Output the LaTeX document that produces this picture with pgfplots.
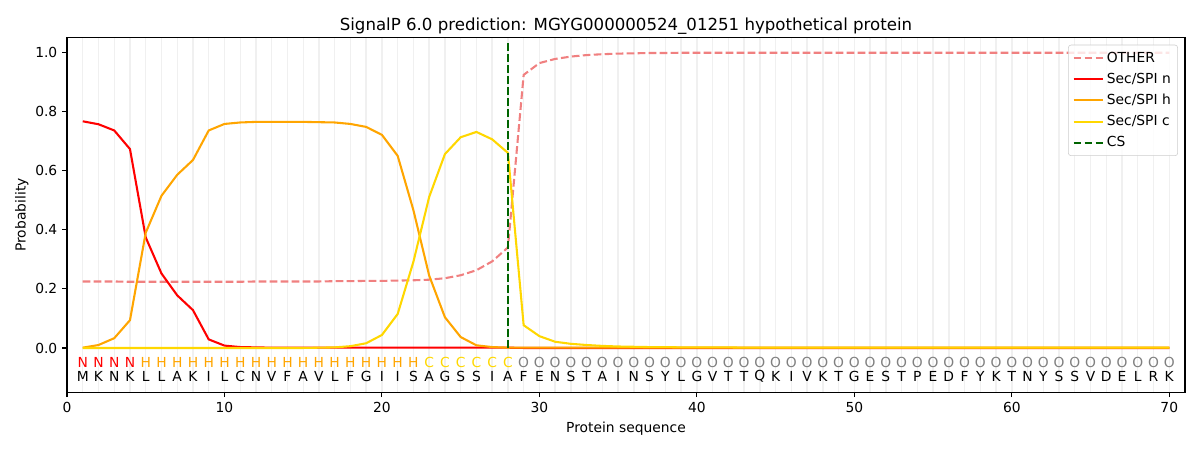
\documentclass[border=0pt]{standalone}
\usepackage{fontspec}
\setmainfont{DejaVu Sans}
\usepackage{pgfplots}
\pgfplotsset{compat=1.18}
\definecolor{lightcoral}{HTML}{F08080}
\definecolor{mplorange}{HTML}{FFA500}
\definecolor{mplgold}{HTML}{FFD700}
\definecolor{mpldarkgreen}{HTML}{006400}
\definecolor{mplgray}{HTML}{808080}
\definecolor{gridgray}{HTML}{F0F0F0}
\begin{document}
\begin{tikzpicture}
\useasboundingbox (-48.42pt,-41.7pt) rectangle ++(867.24pt,325.215pt);
\begin{axis}[
  at={(0,0)}, anchor=south west,
  scale only axis, width=808pt, height=256.3pt,
  xmin=0, xmax=71, ymin=-0.15, ymax=1.05,
  clip=false,
  /pgf/number format/assume math mode=true,
  xtick={0,10,...,70},
  ytick={0,0.2,0.4,0.6,0.8,1.0},
  minor xtick={1,2,...,70},
  xminorgrids=true,
  minor grid style={gridgray, line width=1pt},
  minor tick length=0pt,
  major tick length=3.5pt,
  tick align=outside,
  xtick pos=bottom, ytick pos=left,
  tick style={black, line width=0.8pt},
  axis line style={line width=0.8pt},
  yticklabel style={/pgf/number format/fixed, /pgf/number format/fixed zerofill, /pgf/number format/precision=1},
  ticklabel style={font=\fontsize{10}{12}\selectfont},
  title={SignalP 6.0 prediction: MGYG000000524\_01251 hypothetical protein},
  title style={at={(axis description cs:0.5,1)}, anchor=base, yshift=-0.7pt, font=\fontsize{12}{14}\selectfont},
  xlabel={Protein sequence},
  xlabel style={at={(axis description cs:0.5,0)}, anchor=base, yshift=-29.2pt, font=\fontsize{10}{12}\selectfont},
  ylabel={Probability},
  ylabel style={at={(axis description cs:-0.0405,0.5)}, anchor=center, font=\fontsize{10}{12}\selectfont},
  legend cell align=left,
  legend image code/.code={\draw[#1] (0cm,0.0cm) -- (0.75cm,0cm);},
  legend style={at={(axis description cs:0.9937,0.980)}, anchor=north east,
    draw=black!20, rounded corners=2pt, fill=white, fill opacity=0.8, text opacity=1,
    font=\fontsize{10}{12}\selectfont, row sep=2.3pt, inner sep=3pt},
]
\addplot[lightcoral, line width=1.5pt, dash pattern=on 5.55pt off 2.4pt] coordinates {
(1,0.225) (2,0.225) (3,0.225) (4,0.224) (5,0.224) (6,0.224) (7,0.224) (8,0.224) (9,0.224) (10,0.224)
(11,0.224) (12,0.225) (13,0.225) (14,0.225) (15,0.225) (16,0.225) (17,0.226) (18,0.226) (19,0.227) (20,0.227)
(21,0.228) (22,0.229) (23,0.231) (24,0.236) (25,0.246) (26,0.263) (27,0.293) (28,0.340) (29,0.924) (30,0.964)
(31,0.978) (32,0.986) (33,0.991) (34,0.994) (35,0.996) (36,0.997) (37,0.998) (38,0.998) (39,0.999) (40,0.999)
(41,0.999) (42,0.999) (43,0.999) (44,0.999) (45,0.999) (46,0.999) (47,0.999) (48,0.999) (49,0.999) (50,0.999)
(51,0.999) (52,0.999) (53,0.999) (54,0.999) (55,0.999) (56,0.999) (57,0.999) (58,0.999) (59,0.999) (60,0.999)
(61,0.999) (62,0.999) (63,0.999) (64,0.999) (65,0.999) (66,0.999) (67,0.999) (68,0.999) (69,0.999) (70,0.999)
};
\addlegendentry{OTHER}
\addplot[red, line width=1.5pt] coordinates {
(1,0.767) (2,0.757) (3,0.736) (4,0.673) (5,0.374) (6,0.252) (7,0.178) (8,0.128) (9,0.029) (10,0.008)
(11,0.003) (12,0.002) (13,0.001) (14,0.001) (15,0.001) (16,0.001) (17,0.001) (18,0.001) (19,0.001) (20,0.001)
(21,0.001) (22,0.001) (23,0.001) (24,0.001) (25,0.001) (26,0.001) (27,0.001) (28,0.001) (29,0.000) (30,0.000)
(31,0.000) (32,0.000) (33,0.000) (34,0.000) (35,0.000) (36,0.000) (37,0.000) (38,0.000) (39,0.000) (40,0.000)
(41,0.000) (42,0.000) (43,0.000) (44,0.000) (45,0.000) (46,0.000) (47,0.000) (48,0.000) (49,0.000) (50,0.000)
(51,0.000) (52,0.000) (53,0.000) (54,0.000) (55,0.000) (56,0.000) (57,0.000) (58,0.000) (59,0.000) (60,0.000)
(61,0.000) (62,0.000) (63,0.000) (64,0.000) (65,0.000) (66,0.000) (67,0.000) (68,0.000) (69,0.000) (70,0.000)
};
\addlegendentry{Sec/SPI n}
\addplot[mplorange, line width=1.5pt] coordinates {
(1,0.001) (2,0.010) (3,0.033) (4,0.094) (5,0.390) (6,0.515) (7,0.586) (8,0.636) (9,0.736) (10,0.758)
(11,0.763) (12,0.765) (13,0.765) (14,0.765) (15,0.765) (16,0.764) (17,0.763) (18,0.758) (19,0.748) (20,0.721)
(21,0.650) (22,0.466) (23,0.245) (24,0.104) (25,0.037) (26,0.009) (27,0.003) (28,0.001) (29,0.001) (30,0.001)
(31,0.001) (32,0.001) (33,0.001) (34,0.001) (35,0.001) (36,0.001) (37,0.001) (38,0.001) (39,0.001) (40,0.001)
(41,0.001) (42,0.001) (43,0.001) (44,0.001) (45,0.001) (46,0.001) (47,0.001) (48,0.001) (49,0.001) (50,0.001)
(51,0.001) (52,0.001) (53,0.001) (54,0.001) (55,0.001) (56,0.001) (57,0.001) (58,0.001) (59,0.001) (60,0.001)
(61,0.001) (62,0.001) (63,0.001) (64,0.001) (65,0.001) (66,0.001) (67,0.001) (68,0.001) (69,0.001) (70,0.001)
};
\addlegendentry{Sec/SPI h}
\addplot[mplgold, line width=1.5pt] coordinates {
(1,0.000) (2,0.000) (3,0.000) (4,0.000) (5,0.000) (6,0.000) (7,0.000) (8,0.000) (9,0.000) (10,0.000)
(11,0.000) (12,0.000) (13,0.000) (14,0.000) (15,0.000) (16,0.001) (17,0.002) (18,0.006) (19,0.016) (20,0.044)
(21,0.115) (22,0.292) (23,0.511) (24,0.656) (25,0.713) (26,0.731) (27,0.706) (28,0.660) (29,0.077) (30,0.040)
(31,0.021) (32,0.014) (33,0.010) (34,0.007) (35,0.005) (36,0.004) (37,0.003) (38,0.003) (39,0.002) (40,0.002)
(41,0.002) (42,0.002) (43,0.001) (44,0.001) (45,0.001) (46,0.001) (47,0.001) (48,0.001) (49,0.001) (50,0.001)
(51,0.001) (52,0.001) (53,0.001) (54,0.001) (55,0.001) (56,0.001) (57,0.001) (58,0.001) (59,0.001) (60,0.001)
(61,0.001) (62,0.001) (63,0.001) (64,0.001) (65,0.001) (66,0.001) (67,0.001) (68,0.001) (69,0.001) (70,0.001)
};
\addlegendentry{Sec/SPI c}
\addplot[mpldarkgreen, line width=1.5pt, dash pattern=on 5.55pt off 2.4pt] coordinates {(28,0) (28,1.04)};
\addlegendentry{CS}
% predicted labels
\addplot[forget plot, draw=none, mark=none, point meta=explicit symbolic, nodes near coords,
  every node near coord/.append style={anchor=center, inner sep=0pt, text=red, font=\fontsize{10}{12}\selectfont}]
  coordinates {(1,-0.048) [N] (2,-0.048) [N] (3,-0.048) [N] (4,-0.048) [N]};
\addplot[forget plot, draw=none, mark=none, point meta=explicit symbolic, nodes near coords,
  every node near coord/.append style={anchor=center, inner sep=0pt, text=mplorange, font=\fontsize{10}{12}\selectfont}]
  coordinates {(5,-0.048) [H] (6,-0.048) [H] (7,-0.048) [H] (8,-0.048) [H] (9,-0.048) [H] (10,-0.048) [H]
  (11,-0.048) [H] (12,-0.048) [H] (13,-0.048) [H] (14,-0.048) [H] (15,-0.048) [H] (16,-0.048) [H]
  (17,-0.048) [H] (18,-0.048) [H] (19,-0.048) [H] (20,-0.048) [H] (21,-0.048) [H] (22,-0.048) [H]};
\addplot[forget plot, draw=none, mark=none, point meta=explicit symbolic, nodes near coords,
  every node near coord/.append style={anchor=center, inner sep=0pt, text=mplgold, font=\fontsize{10}{12}\selectfont}]
  coordinates {(23,-0.048) [C] (24,-0.048) [C] (25,-0.048) [C] (26,-0.048) [C] (27,-0.048) [C] (28,-0.048) [C]};
\addplot[forget plot, draw=none, mark=none, point meta=explicit symbolic, nodes near coords,
  every node near coord/.append style={anchor=center, inner sep=0pt, text=mplgray, font=\fontsize{10}{12}\selectfont}]
  coordinates {(29,-0.048) [O] (30,-0.048) [O] (31,-0.048) [O] (32,-0.048) [O] (33,-0.048) [O] (34,-0.048) [O]
  (35,-0.048) [O] (36,-0.048) [O] (37,-0.048) [O] (38,-0.048) [O] (39,-0.048) [O] (40,-0.048) [O]
  (41,-0.048) [O] (42,-0.048) [O] (43,-0.048) [O] (44,-0.048) [O] (45,-0.048) [O] (46,-0.048) [O]
  (47,-0.048) [O] (48,-0.048) [O] (49,-0.048) [O] (50,-0.048) [O] (51,-0.048) [O] (52,-0.048) [O]
  (53,-0.048) [O] (54,-0.048) [O] (55,-0.048) [O] (56,-0.048) [O] (57,-0.048) [O] (58,-0.048) [O]
  (59,-0.048) [O] (60,-0.048) [O] (61,-0.048) [O] (62,-0.048) [O] (63,-0.048) [O] (64,-0.048) [O]
  (65,-0.048) [O] (66,-0.048) [O] (67,-0.048) [O] (68,-0.048) [O] (69,-0.048) [O] (70,-0.048) [O]};
% amino acid sequence
\addplot[forget plot, draw=none, mark=none, point meta=explicit symbolic, nodes near coords,
  every node near coord/.append style={anchor=center, inner sep=0pt, text=black, font=\fontsize{10}{12}\selectfont}]
  coordinates {
  (1,-0.097) [M] (2,-0.097) [K] (3,-0.097) [N] (4,-0.097) [K] (5,-0.097) [L] (6,-0.097) [L] (7,-0.097) [A] (8,-0.097) [K] (9,-0.097) [I] (10,-0.097) [L]
  (11,-0.097) [C] (12,-0.097) [N] (13,-0.097) [V] (14,-0.097) [F] (15,-0.097) [A] (16,-0.097) [V] (17,-0.097) [L] (18,-0.097) [F] (19,-0.097) [G] (20,-0.097) [I]
  (21,-0.097) [I] (22,-0.097) [S] (23,-0.097) [A] (24,-0.097) [G] (25,-0.097) [S] (26,-0.097) [S] (27,-0.097) [I] (28,-0.097) [A] (29,-0.097) [F] (30,-0.097) [E]
  (31,-0.097) [N] (32,-0.097) [S] (33,-0.097) [T] (34,-0.097) [A] (35,-0.097) [I] (36,-0.097) [N] (37,-0.097) [S] (38,-0.097) [Y] (39,-0.097) [L] (40,-0.097) [G]
  (41,-0.097) [V] (42,-0.097) [T] (43,-0.097) [T] (44,-0.097) [Q] (45,-0.097) [K] (46,-0.097) [I] (47,-0.097) [V] (48,-0.097) [K] (49,-0.097) [T] (50,-0.097) [G]
  (51,-0.097) [E] (52,-0.097) [S] (53,-0.097) [T] (54,-0.097) [P] (55,-0.097) [E] (56,-0.097) [D] (57,-0.097) [F] (58,-0.097) [Y] (59,-0.097) [K] (60,-0.097) [T]
  (61,-0.097) [N] (62,-0.097) [Y] (63,-0.097) [S] (64,-0.097) [S] (65,-0.097) [V] (66,-0.097) [D] (67,-0.097) [E] (68,-0.097) [L] (69,-0.097) [R] (70,-0.097) [K]
  };
\end{axis}
\end{tikzpicture}
\end{document}
